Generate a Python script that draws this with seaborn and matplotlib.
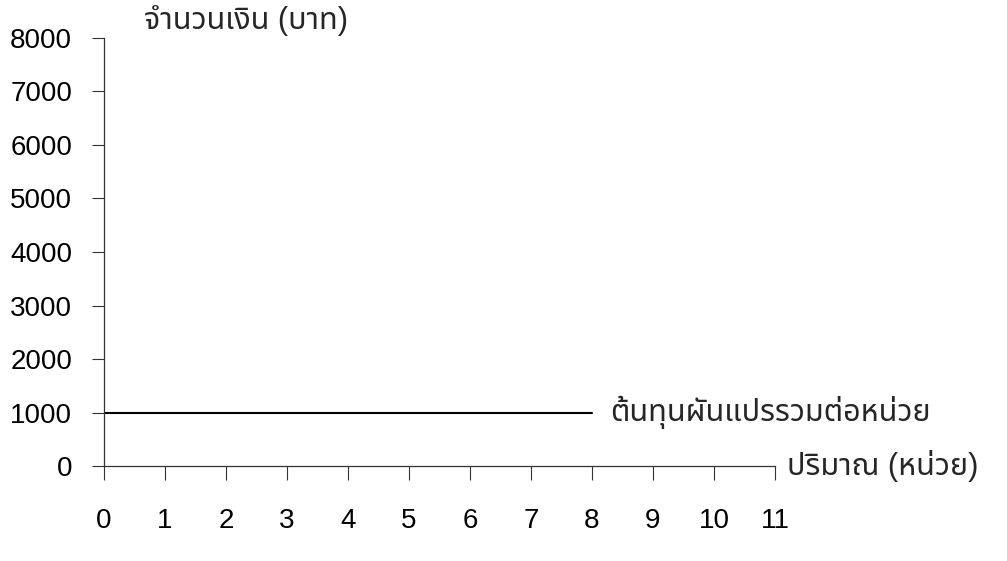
import matplotlib
matplotlib.use("Agg")
import matplotlib.pyplot as plt
import seaborn as sns
import pandas as pd

# data
units = [0, 1, 2, 3, 4, 5, 6, 7, 8]
cost_per_unit = [1000, 1000, 1000, 1000, 1000, 1000, 1000, 1000, 1000]
x_ticks = [0, 1, 2, 3, 4, 5, 6, 7, 8, 9, 10, 11]
y_ticks = [0, 1000, 2000, 3000, 4000, 5000, 6000, 7000, 8000]
y_title = "จำนวนเงิน (บาท)"
x_title = "ปริมาณ (หน่วย)"
line_label = "ต้นทุนผันแปรรวมต่อหน่วย"

sns.set_style("white")
plt.rcParams['font.family'] = ['Liberation Sans', 'Noto Sans Thai', 'Loma', 'Garuda',
                               'Tahoma', 'Noto Sans', 'DejaVu Sans']

df = pd.DataFrame({'units': units, 'cost': cost_per_unit})

fig = plt.figure(figsize=(10.07, 5.61), dpi=100)
ax = fig.add_axes([0.1033, 0.1693, 0.6663, 0.763])

sns.lineplot(data=df, x='units', y='cost', color='black', linewidth=1.5, ax=ax)

ax.set_xlim(0, 11)
ax.set_ylim(0, 8000)
ax.set_xticks(x_ticks)
ax.set_yticks(y_ticks)
ax.tick_params(axis='x', bottom=True, direction='out', length=10, width=0.8,
               pad=20, labelsize=20, colors='black')
ax.tick_params(axis='y', left=True, direction='out', length=9, width=0.8,
               pad=14, labelsize=20, colors='black')
ax.tick_params(color='#333333')
ax.set_xlabel('')
ax.set_ylabel('')
sns.despine(ax=ax)
for s in ['left', 'bottom']:
    ax.spines[s].set_color('#333333')
    ax.spines[s].set_linewidth(0.9)

ax.text(0.06, 1.005, y_title, transform=ax.transAxes, fontsize=22,
        ha='left', va='bottom')
ax.text(1.018, 0.0, x_title, transform=ax.transAxes, fontsize=22,
        ha='left', va='center')
ax.text(units[-1] + 0.3, cost_per_unit[-1], line_label, fontsize=22,
        ha='left', va='center')

fig.savefig('out.png', dpi=100)
